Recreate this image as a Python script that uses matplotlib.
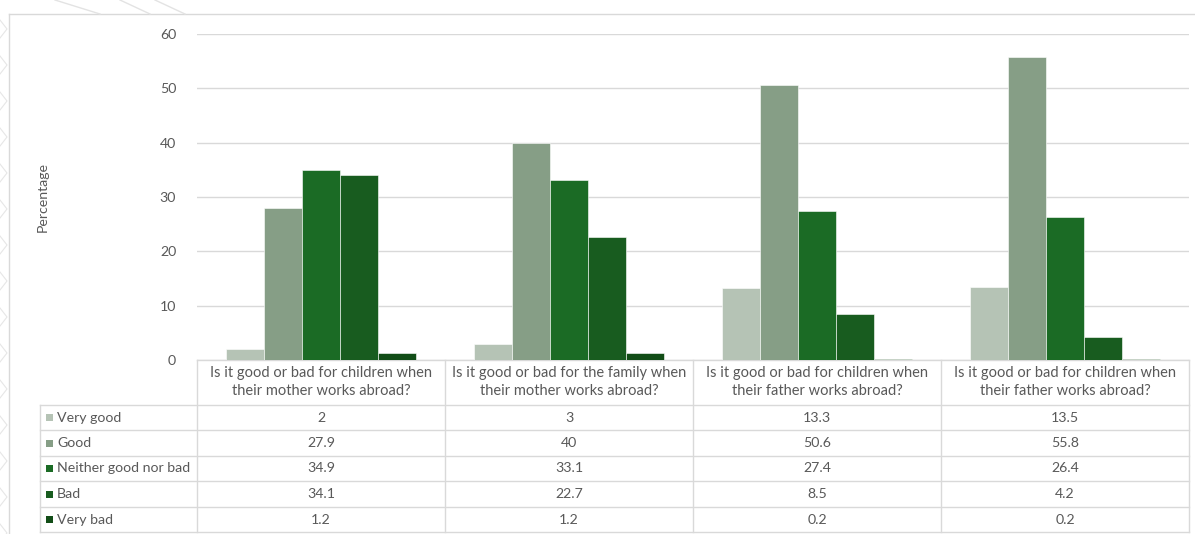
import matplotlib.pyplot as plt
import numpy as np

plt.rcParams['font.family'] = ['Lato', 'DejaVu Sans']

questions = [
    'Is it good or bad for children when\ntheir mother works abroad?',
    'Is it good or bad for the family when\ntheir mother works abroad?',
    'Is it good or bad for children when\ntheir father works abroad?',
    'Is it good or bad for children when\ntheir father works abroad?',
]
responses = ['Very good', 'Good', 'Neither good nor bad', 'Bad', 'Very bad']
very_good = [2, 3, 13.3, 13.5]
good = [27.9, 40, 50.6, 55.8]
neither = [34.9, 33.1, 27.4, 26.4]
bad = [34.1, 22.7, 8.5, 4.2]
very_bad = [1.2, 1.2, 0.2, 0.2]
series = [very_good, good, neither, bad, very_bad]
y_ticks = [0, 10, 20, 30, 40, 50, 60]

colors = ['#b5c3b5', '#869e86', '#1b6b25', '#185c1f', '#124d17']
TXT = '#595959'
GRID = '#d9d9d9'
FS = 10.2

W, H = 1195, 534
fig = plt.figure(figsize=(W / 100, H / 100), dpi=100)

# pixel helpers for placing axes
def fx(px):
    return px / W

def fy(py):
    return 1 - py / H

x_left, x_right = 197, 1189
y_top, y_zero = 34, 360

ax = fig.add_axes([fx(x_left), fy(y_zero), fx(x_right - x_left), (y_zero - y_top) / H])
n = len(questions)
x = np.arange(n)
bw = 0.153
offsets = (np.arange(len(series)) - 2) * bw
for vals, off, c, lbl in zip(series, offsets, colors, responses):
    ax.bar(x + off, vals, width=bw, color=c, edgecolor='white', linewidth=0.4,
           label=lbl, zorder=3)

ax.set_xlim(-0.5, n - 0.5)
ax.set_ylim(0, 60)
ax.set_yticks(y_ticks)
ax.yaxis.grid(True, color=GRID, linewidth=1.0, zorder=0)
ax.set_xticks([])
for s in ax.spines.values():
    s.set_visible(False)
ax.tick_params(axis='y', length=0, pad=15, labelsize=FS, labelcolor=TXT)
ax.patch.set_alpha(0)

# overlay in pixel coordinates for frame, table and axis title
ov = fig.add_axes([0, 0, 1, 1], zorder=-1)
ov.set_xlim(0, W)
ov.set_ylim(H, 0)
ov.axis('off')

# outer frame and faint background decoration
ov.plot([9, W], [14, 14], color='#d9d9d9', lw=1.0)
ov.plot([9, 9], [14, H], color='#d9d9d9', lw=1.0)
for x0, x1 in [(55, 100), (120, 150), (155, 185)]:
    ov.plot([x0, x1], [0, 14], color='#e3e3e3', lw=1.0)
for yy in range(20, 530, 36):
    ov.plot([0, 7, 0], [yy, yy + 9, yy + 18], color='#e6e6e6', lw=0.8)

ov.text(43, 197, 'Percentage', rotation=90, ha='center', va='center',
        fontsize=FS, color=TXT)

# data table
line_kw = dict(color=GRID, lw=1.0)
col_edges = [x_left + (x_right - x_left) * k / n for k in range(n + 1)]
row_edges = [405, 430, 456, 481, 507, 532]
tab_left = 40

ov.plot([x_left, x_right], [360, 360], **line_kw)
for ry in row_edges:
    ov.plot([tab_left, x_right], [ry, ry], **line_kw)
ov.plot([tab_left, tab_left], [row_edges[0], row_edges[-1]], **line_kw)
for cx in col_edges:
    ov.plot([cx, cx], [360, row_edges[-1]], **line_kw)

for k, q in enumerate(questions):
    cx = (col_edges[k] + col_edges[k + 1]) / 2
    ov.text(cx, 382, q, ha='center', va='center', fontsize=10.5,
            color=TXT, linespacing=1.35)

for i, (lbl, vals, c) in enumerate(zip(responses, series, colors)):
    cy = (row_edges[i] + row_edges[i + 1]) / 2
    ov.add_patch(plt.Rectangle((46, cy - 3.5), 7, 7, color=c, lw=0))
    ov.text(57, cy, lbl, ha='left', va='center', fontsize=FS, color=TXT)
    for k, v in enumerate(vals):
        cx = (col_edges[k] + col_edges[k + 1]) / 2
        ov.text(cx, cy, f'{v:g}', ha='center', va='center', fontsize=FS,
                color=TXT)

fig.savefig('out.png', dpi=100, facecolor='white')
